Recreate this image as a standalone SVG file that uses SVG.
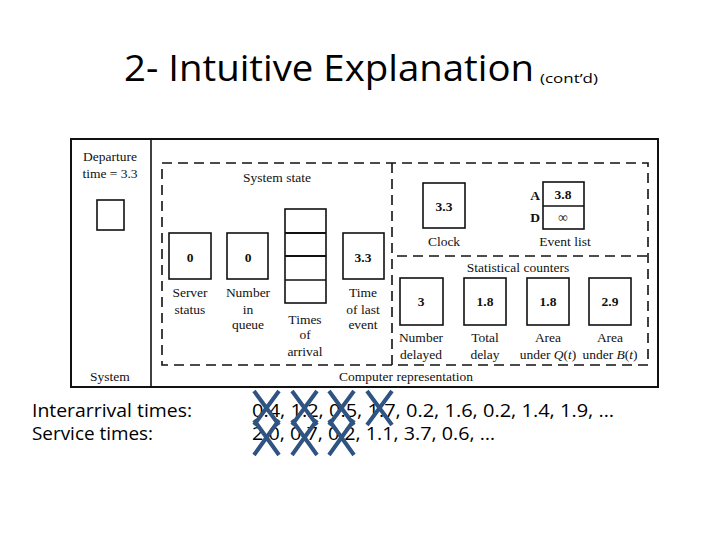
<svg xmlns="http://www.w3.org/2000/svg" width="720" height="540" viewBox="0 0 720 540">
<style>
.t{font-family:"Liberation Serif","Times New Roman",serif;font-size:13.5px;fill:#111;text-anchor:middle}
.n{font-family:"Liberation Serif","Times New Roman",serif;font-size:13.5px;font-weight:bold;fill:#111;text-anchor:middle}
.box{fill:#fff;stroke:#111;stroke-width:1.6}
.dash{fill:none;stroke:#111;stroke-width:1.6;stroke-dasharray:10 6}
.c{font-family:"Open Sans","Noto Sans","Liberation Sans",sans-serif;fill:#000}
.x{stroke:#2F5382;stroke-width:4;stroke-linecap:butt;fill:none}
</style>
<rect width="720" height="540" fill="#fff"/>
<g id="title">
<text class="c" x="124" y="81" font-size="37" textLength="410" lengthAdjust="spacingAndGlyphs">2- Intuitive Explanation</text>
<text class="c" x="540" y="83" font-size="12" textLength="58" lengthAdjust="spacingAndGlyphs">(cont’d)</text>
</g>
<g id="frame">
<rect x="71" y="139" width="587" height="248" fill="none" stroke="#111" stroke-width="2"/>
<line x1="151" y1="139" x2="151" y2="387" stroke="#111" stroke-width="1.6"/>
<text class="t" x="406" y="381">Computer representation</text>
</g>
<g id="system">
<text class="t" x="110" y="161">Departure</text>
<text class="t" x="110" y="178">time = 3.3</text>
<rect class="box" x="97" y="200" width="27" height="30"/>
<text class="t" x="110" y="381">System</text>
</g>
<g id="dashed">
<rect class="dash" x="162" y="163" width="486" height="202"/>
<line class="dash" x1="392" y1="163" x2="392" y2="365"/>
<line class="dash" x1="397" y1="256" x2="648" y2="256"/>
<text class="t" x="277" y="182">System state</text>
<text class="t" x="518" y="272">Statistical counters</text>
</g>
<g id="server-status">
<rect class="box" x="169" y="233" width="42" height="46"/>
<text class="n" x="190" y="262">0</text>
<text class="t" x="190" y="297">Server</text>
<text class="t" x="190" y="314">status</text>
</g>
<g id="number-in-queue">
<rect class="box" x="227" y="233" width="41" height="46"/>
<text class="n" x="248" y="262">0</text>
<text class="t" x="248" y="297">Number</text>
<text class="t" x="248" y="314">in</text>
<text class="t" x="248" y="329">queue</text>
</g>
<g id="times-of-arrival">
<rect class="box" x="285" y="209" width="41" height="94"/>
<line x1="285" y1="233" x2="326" y2="233" stroke="#111" stroke-width="2"/>
<line x1="285" y1="256" x2="326" y2="256" stroke="#111" stroke-width="2"/>
<line x1="285" y1="280" x2="326" y2="280" stroke="#111" stroke-width="1.4"/>
<text class="t" x="305" y="324">Times</text>
<text class="t" x="305" y="339">of</text>
<text class="t" x="305" y="356">arrival</text>
</g>
<g id="time-of-last-event">
<rect class="box" x="343" y="233" width="41" height="46"/>
<text class="n" x="363" y="262">3.3</text>
<text class="t" x="363" y="297">Time</text>
<text class="t" x="363" y="314">of last</text>
<text class="t" x="363" y="329">event</text>
</g>
<g id="clock">
<rect class="box" x="423" y="183" width="42" height="45"/>
<text class="n" x="444" y="211">3.3</text>
<text class="t" x="444" y="246">Clock</text>
</g>
<g id="event-list">
<rect class="box" x="543" y="182" width="41" height="47"/>
<line x1="543" y1="206" x2="584" y2="206" stroke="#111" stroke-width="1.6"/>
<text class="n" x="535" y="200">A</text>
<text class="n" x="535" y="222">D</text>
<text class="n" x="563" y="199">3.8</text>
<text class="n" x="563" y="222">∞</text>
<text class="t" x="565" y="246">Event list</text>
</g>
<g id="number-delayed">
<rect class="box" x="400" y="278" width="43" height="47"/>
<text class="n" x="421" y="306">3</text>
<text class="t" x="421" y="342">Number</text>
<text class="t" x="421" y="359">delayed</text>
</g>
<g id="total-delay">
<rect class="box" x="464" y="278" width="42" height="47"/>
<text class="n" x="485" y="306">1.8</text>
<text class="t" x="485" y="342">Total</text>
<text class="t" x="485" y="359">delay</text>
</g>
<g id="area-q">
<rect class="box" x="527" y="278" width="42" height="47"/>
<text class="n" x="548" y="306">1.8</text>
<text class="t" x="548" y="342">Area</text>
<text class="t" x="548" y="359">under <tspan font-style="italic">Q</tspan>(<tspan font-style="italic">t</tspan>)</text>
</g>
<g id="area-b">
<rect class="box" x="589" y="278" width="42" height="47"/>
<text class="n" x="610" y="306">2.9</text>
<text class="t" x="610" y="342">Area</text>
<text class="t" x="610" y="359">under <tspan font-style="italic">B</tspan>(<tspan font-style="italic">t</tspan>)</text>
</g>
<g id="times-text">
<text class="c" x="32" y="417" font-size="18" textLength="160" lengthAdjust="spacingAndGlyphs">Interarrival times:</text>
<text class="c" x="32" y="440" font-size="18" textLength="121" lengthAdjust="spacingAndGlyphs">Service times:</text>
<text class="c" x="252" y="417" font-size="18" textLength="362" lengthAdjust="spacingAndGlyphs">0.4, 1.2, 0.5, 1.7, 0.2, 1.6, 0.2, 1.4, 1.9, …</text>
<text class="c" x="252" y="440" font-size="18" textLength="243" lengthAdjust="spacingAndGlyphs">2.0, 0.7, 0.2, 1.1, 3.7, 0.6, …</text>
</g>
<g id="crosses">
<path class="x" d="M254 391L279 425M279 391L254 425M254 420L279 455M279 420L254 455"/>
<path class="x" d="M292 391L317 425M317 391L292 425M292 420L317 455M317 420L292 455"/>
<path class="x" d="M329 391L354 425M354 391L329 425M329 420L354 455M354 420L329 455"/>
<path class="x" d="M367 391L392 425M392 391L367 425"/>
</g>
</svg>
